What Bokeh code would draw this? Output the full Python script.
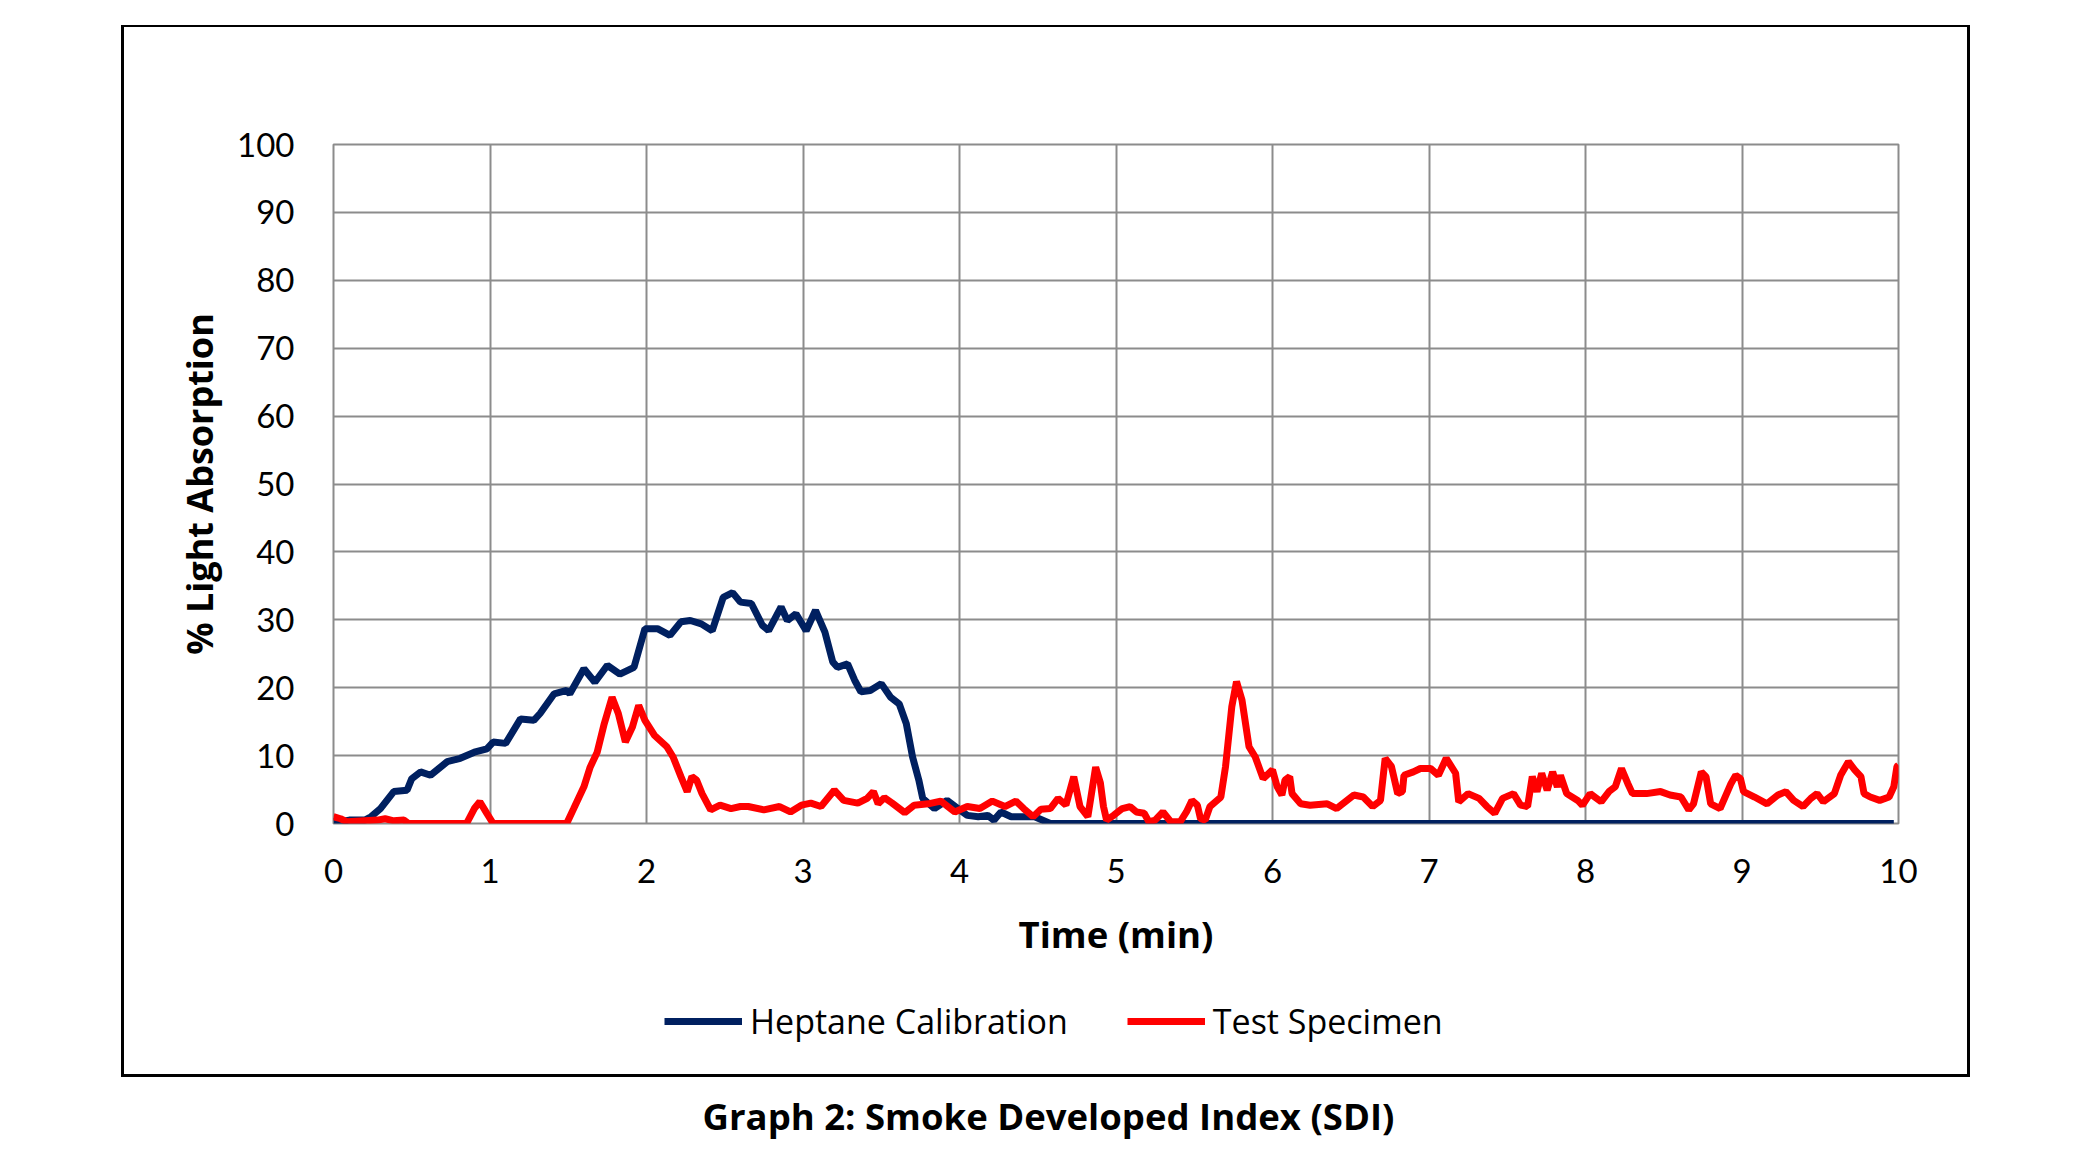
from bokeh.plotting import figure
from bokeh.models import Legend, LegendItem, FixedTicker, Range1d, Div
from bokeh.layouts import column
from bokeh.embed import file_html
from bokeh.resources import INLINE

# ---- data ----
x_ticks = [0, 1, 2, 3, 4, 5, 6, 7, 8, 9, 10]
y_ticks = [0, 10, 20, 30, 40, 50, 60, 70, 80, 90, 100]

hep_t = [0, 0.05, 0.1, 0.2, 0.24, 0.3, 0.385, 0.47, 0.5, 0.556, 0.62, 0.726, 0.81, 0.9, 0.98,
         1.02, 1.1, 1.195, 1.28, 1.32, 1.41, 1.49, 1.51, 1.6, 1.67, 1.75, 1.83, 1.92, 1.99,
         2.07, 2.15, 2.22, 2.28, 2.35, 2.42, 2.49, 2.55, 2.6, 2.67, 2.74, 2.78, 2.86, 2.9,
         2.955, 3.02, 3.08, 3.14, 3.19, 3.22, 3.285, 3.33, 3.37, 3.43, 3.5, 3.56, 3.615,
         3.66, 3.7, 3.74, 3.765, 3.84, 3.92, 3.99, 4.05, 4.12, 4.18, 4.22, 4.265, 4.33,
         4.39, 4.48, 4.58, 9.97]
hep_v = [0.3, 0.3, 0.5, 0.5, 1.0, 2.2, 4.7, 4.9, 6.6, 7.6, 7.1, 9.1, 9.6, 10.5, 11.0,
         12.0, 11.8, 15.4, 15.2, 16.2, 19.1, 19.6, 19.1, 22.8, 20.8, 23.3, 22.0, 23.0, 28.7,
         28.7, 27.7, 29.7, 29.9, 29.4, 28.4, 33.3, 34.0, 32.6, 32.4, 29.2, 28.4, 31.9, 29.9,
         30.9, 28.4, 31.4, 28.2, 23.8, 23.0, 23.5, 21.1, 19.4, 19.6, 20.6, 18.6, 17.6,
         14.7, 9.8, 6.4, 3.7, 2.2, 3.4, 2.2, 1.2, 1.0, 1.2, 0.5, 1.7, 1.0,
         1.0, 1.0, 0.0, 0.0]

red_t = [0, 0.045, 0.087, 0.28, 0.33, 0.385, 0.45, 0.48, 0.85, 0.9, 0.935, 0.98, 1.02,
         1.49, 1.535, 1.6, 1.64, 1.685, 1.73, 1.78, 1.82, 1.865, 1.91, 1.95, 1.99, 2.05,
         2.13, 2.17, 2.22, 2.26, 2.29, 2.32, 2.355, 2.41, 2.47, 2.54, 2.6, 2.65, 2.75, 2.85,
         2.92, 2.99, 3.05, 3.115, 3.2, 3.26, 3.35, 3.41, 3.45, 3.48, 3.52, 3.57, 3.65, 3.71,
         3.8, 3.88, 3.97, 4.05, 4.13, 4.21, 4.29, 4.36, 4.41, 4.47, 4.52, 4.58, 4.63, 4.68,
         4.73, 4.77, 4.82, 4.87, 4.9, 4.92, 4.94, 4.985, 5.04, 5.09, 5.13, 5.18, 5.21, 5.25,
         5.3, 5.35, 5.41, 5.45, 5.485, 5.52, 5.54, 5.57, 5.6, 5.67, 5.7, 5.74, 5.77, 5.805,
         5.85, 5.89, 5.94, 6.0, 6.03, 6.06, 6.08, 6.11, 6.125, 6.18, 6.24, 6.35, 6.41, 6.52,
         6.58, 6.64, 6.69, 6.72, 6.76, 6.8, 6.83, 6.84, 6.9, 6.945, 7.01, 7.06, 7.11, 7.17,
         7.19, 7.25, 7.32, 7.37, 7.42, 7.47, 7.54, 7.585, 7.63, 7.66, 7.69, 7.72, 7.755,
         7.79, 7.82, 7.84, 7.88, 7.95, 7.98, 8.03, 8.1, 8.15, 8.19, 8.23, 8.27, 8.3, 8.39,
         8.48, 8.54, 8.61, 8.66, 8.69, 8.74, 8.77, 8.8, 8.86, 8.93, 8.96, 8.99, 9.01, 9.08,
         9.16, 9.23, 9.28, 9.33, 9.39, 9.44, 9.48, 9.52, 9.59, 9.63, 9.68, 9.72, 9.76, 9.78,
         9.82, 9.88, 9.94, 9.97, 9.99, 10.0]
red_v = [1.0, 0.7, 0.25, 0.5, 0.7, 0.4, 0.5, 0.0, 0.0, 2.2, 3.2, 1.5, 0.0,
         0.0, 2.2, 5.4, 8.3, 10.5, 14.7, 18.6, 16.2, 12.0, 14.2, 17.4, 15.2, 13.0,
         11.3, 9.8, 6.9, 4.7, 6.9, 6.4, 4.4, 2.0, 2.7, 2.2, 2.5, 2.5, 2.0, 2.5,
         1.7, 2.7, 3.0, 2.5, 4.9, 3.4, 3.0, 3.7, 4.7, 2.9, 3.8, 3.0, 1.6, 2.7,
         2.9, 3.3, 1.7, 2.5, 2.2, 3.3, 2.5, 3.3, 2.2, 1.0, 2.1, 2.2, 3.7, 2.7,
         6.9, 2.5, 1.0, 8.3, 6.0, 2.5, 0.5, 1.2, 2.2, 2.5, 1.7, 1.5, 0.25, 0.5,
         1.7, 0.25, 0.25, 1.7, 3.4, 2.7, 0.7, 0.5, 2.5, 3.9, 8.4, 17.2, 20.9, 18.2,
         11.3, 9.8, 6.6, 7.9, 5.4, 4.2, 6.4, 6.9, 4.4, 2.9, 2.7, 2.9, 2.2, 4.2,
         3.9, 2.5, 3.4, 9.6, 8.4, 4.4, 4.7, 7.1, 7.6, 8.1, 8.1, 7.1, 9.6, 7.4,
         3.2, 4.4, 3.7, 2.5, 1.5, 3.7, 4.4, 2.7, 2.5, 6.9, 4.7, 7.4, 4.9,
         7.6, 5.4, 7.1, 4.4, 3.4, 2.7, 4.4, 3.2, 4.7, 5.4, 8.1, 5.9, 4.4, 4.4,
         4.7, 4.2, 3.9, 2.0, 2.9, 7.6, 6.9, 2.9, 2.2, 5.9, 7.1, 6.6, 4.7, 3.9,
         2.9, 4.2, 4.7, 3.4, 2.5, 3.7, 4.4, 3.2, 4.4, 7.1, 9.1, 7.9, 6.9, 4.4,
         3.9, 3.4, 3.9, 5.4, 8.4, 8.6]

series_names = ["Heptane Calibration", "Test Specimen"]
series_colors = ["#002060", "#FF0000"]
caption_text = "Graph 2: Smoke Developed Index (SDI)"

TICK_FONT = "Lato"
TEXT_FONT = "Open Sans"
LINE_W = 7

# ---- main chart (upper part of the bordered chart area) ----
p = figure(width=1849, height=953, output_backend="svg", toolbar_location=None,
           x_range=Range1d(0, 10), y_range=Range1d(0, 100),
           min_border_left=209, min_border_right=75, min_border_top=117, min_border_bottom=157)
p.margin = (25, 0, 0, 121)
p.styles = {"border-style": "solid", "border-color": "black",
            "border-width": "2px 3px 0px 3px"}
p.background_fill_color = "white"
p.border_fill_color = "white"
p.outline_line_color = "#8c8c8c"
p.outline_line_width = 2

p.line(hep_t, hep_v, line_color=series_colors[0], line_width=LINE_W)
p.line(red_t, red_v, line_color=series_colors[1], line_width=LINE_W)

for ax in (p.xaxis[0], p.yaxis[0]):
    ax.axis_line_color = None
    ax.major_tick_line_color = None
    ax.minor_tick_line_color = None
    ax.major_label_text_font = TICK_FONT
    ax.major_label_text_font_size = "33px"
    ax.major_label_text_color = "black"
    ax.axis_label_text_font = TEXT_FONT
    ax.axis_label_text_font_style = "bold"
    ax.axis_label_text_color = "black"

p.xaxis.axis_label_text_font_size = "36.5px"
p.yaxis.axis_label_text_font_size = "36px"
p.xaxis.ticker = FixedTicker(ticks=x_ticks)
p.yaxis.ticker = FixedTicker(ticks=y_ticks)
p.xaxis.axis_label = "Time (min)"
p.yaxis.axis_label = "% Light Absorption"
p.xaxis.major_label_standoff = 29
p.yaxis.major_label_standoff = 33
p.xaxis.axis_label_standoff = 23
p.yaxis.axis_label_standoff = 10

p.xgrid.ticker = FixedTicker(ticks=x_ticks)
p.ygrid.ticker = FixedTicker(ticks=y_ticks)
for g in (p.xgrid[0], p.ygrid[0]):
    g.grid_line_color = "#8c8c8c"
    g.grid_line_width = 2

# ---- legend strip (lower part of the bordered chart area) ----
# the series are re-plotted here with ranges that keep them out of view,
# so that only their legend entries show
lg = figure(width=1849, height=99, output_backend="svg", toolbar_location=None,
            x_range=Range1d(-30, -29), y_range=Range1d(-30, -29),
            x_axis_type=None, y_axis_type=None, min_border=0)
lg.margin = (0, 0, 0, 121)
lg.styles = {"border-style": "solid", "border-color": "black",
             "border-width": "0px 3px 3px 3px"}
lg.outline_line_color = None
lg.background_fill_color = "white"
lg.border_fill_color = "white"
k1 = lg.line(hep_t, hep_v, line_color=series_colors[0], line_width=LINE_W)
k2 = lg.line(red_t, red_v, line_color=series_colors[1], line_width=LINE_W)

legend = Legend(items=[LegendItem(label=series_names[0], renderers=[k1]),
                       LegendItem(label=series_names[1], renderers=[k2])],
                orientation="horizontal", location=(331, 33),
                glyph_width=78, glyph_height=46, label_height=46, label_standoff=8, spacing=59,
                padding=0, margin=0, border_line_color=None, background_fill_alpha=0,
                label_text_font=TEXT_FONT, label_text_font_size="34px", label_text_color="black")
lg.add_layout(legend, "center")

cap = Div(text=caption_text, width=1855, height=40, margin=(19, 0, 0, 121),
          styles={"font-family": "Open Sans", "font-weight": "bold", "font-size": "36.5px",
                  "text-align": "center", "line-height": "40px", "color": "black",
                  "white-space": "nowrap"})

root = column(p, lg, cap, spacing=0)
open("out.html", "w").write(file_html(root, INLINE))
